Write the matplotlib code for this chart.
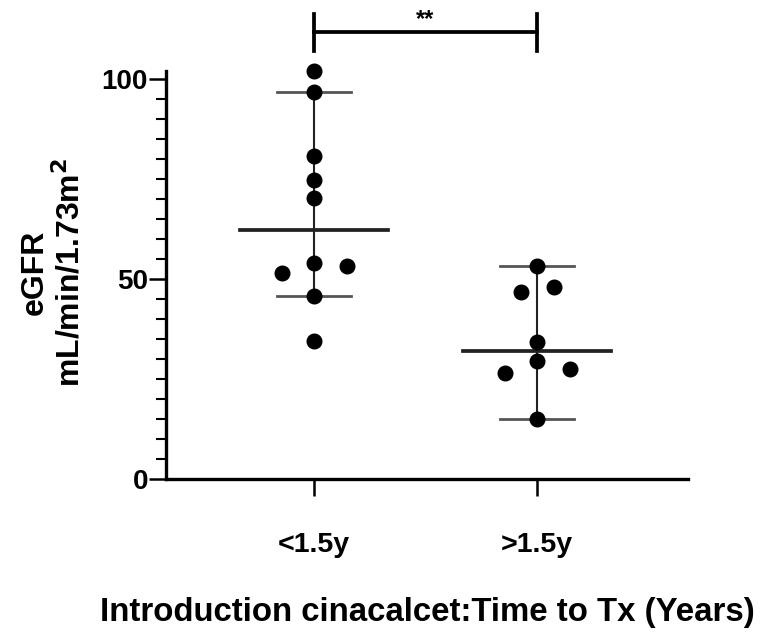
import numpy as np
import matplotlib
matplotlib.use("Agg")
import matplotlib.pyplot as plt

plt.rcParams['font.family'] = ['Liberation Sans', 'DejaVu Sans']
plt.rcParams['font.weight'] = 'bold'

# --- dados ---
grupos = ["<1.5y", ">1.5y"]
egfr_1 = [102.1, 96.8, 80.8, 74.8, 70.3, 53.9, 51.6, 53.3, 45.8, 34.5]
jit_1 = [0, 0, 0, 0, 0, 0, -0.145, 0.148, 0, 0]
egfr_2 = [53.2, 46.7, 48.1, 34.3, 29.6, 26.4, 27.5, 15.0]
jit_2 = [0, -0.072, 0.076, 0, 0, -0.143, 0.148, 0]
medianas = [62.2, 32.0]
ic_sup = [96.8, 53.2]
ic_inf = [45.8, 15.0]
signif = "**"

fig = plt.figure(figsize=(7.63, 6.42), dpi=100)
ax = fig.add_axes([166/763, (642-479)/642, 522/763, 478/642])

for i, (vals, jit) in enumerate([(egfr_1, jit_1), (egfr_2, jit_2)]):
    ax.plot(np.array(jit) + i, vals, 'o', color='black', ms=10.5, zorder=3)
    ax.plot([i, i], [ic_inf[i], ic_sup[i]], color='#222222', lw=1.5, zorder=2)
    for v in (ic_inf[i], ic_sup[i]):
        ax.plot([i - 0.166, i + 0.166], [v, v], color='#555555', lw=2, zorder=2)
    ax.plot([i - 0.33, i + 0.33], [medianas[i], medianas[i]], color='#222222', lw=2.7, zorder=2)

# barra de significância
yb = 111.8
ax.plot([0, 1], [yb, yb], color='black', lw=2.7, clip_on=False)
for xx in (0, 1):
    ax.plot([xx, xx], [107, 116.2], color='black', lw=2.7, clip_on=False)
ax.text(0.5, yb + 0.3, signif, ha='center', va='bottom', fontsize=17, fontweight='bold')

ax.set_xlim(-0.664, 1.677)
ax.set_ylim(0, 119.5)
ax.spines['top'].set_visible(False)
ax.spines['right'].set_visible(False)
ax.spines['left'].set_bounds(0, 102)
ax.spines['left'].set_linewidth(2.4)
ax.spines['bottom'].set_linewidth(2.4)
ax.set_yticks([0, 50, 100])
ax.set_yticks(np.arange(0, 101, 5), minor=True)
ax.set_xticks([0, 1])
ax.set_xticklabels(grupos)
ax.tick_params(axis='y', which='major', length=12, width=1.8, labelsize=20, pad=1)
ax.tick_params(axis='y', which='minor', length=7, width=1.5)
ax.tick_params(axis='x', which='major', length=12, width=1.8, labelsize=20.5, pad=26)
for lbl in ax.get_xticklabels() + ax.get_yticklabels():
    lbl.set_fontweight('bold')

ax.set_ylabel('eGFR\nmL/min/1.73m$^\\mathbf{2}$', fontsize=23, fontweight='bold', linespacing=1.15)
ax.yaxis.set_label_coords(-0.153, 0.433)
ax.set_xlabel('Introduction cinacalcet:Time to Tx (Years)', fontsize=23.8, fontweight='bold', labelpad=28)

fig.savefig('out.png', dpi=100)
